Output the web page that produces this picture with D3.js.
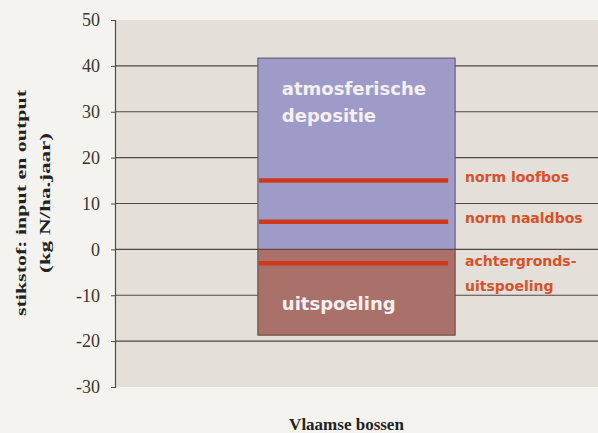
<!DOCTYPE html>
<head>
<meta charset="utf-8">
<style>
  body { margin:0; background:#f5f3ef; }
  .tick text { font-family:"Liberation Serif", "DejaVu Serif", serif; font-size:18px; fill:#3a3632; }
</style>
</head>
<script src="https://d3js.org/d3.v7.min.js"></script>
<div id="chart"></div>
<script>
// data
var categories = ["Vlaamse bossen"];
var deposition = [41.7];
var leaching = [-18.7];
var normNames = ["norm loofbos", "norm naaldbos", "achtergronds-|uitspoeling"];
var normValues = [15, 6, -3];
var yTicks = [50, 40, 30, 20, 10, 0, -10, -20, -30];

var W = 598, H = 433;
var svg = d3.select("#chart").append("svg").attr("width", W).attr("height", H);

var x = d3.scaleBand().domain(categories).range([115, 598]).padding(0.42);
var y = d3.scaleLinear().domain([-30, 50]).range([387, 20]);

// plot background
svg.append("rect").attr("x", 115).attr("y", y(50)).attr("width", W - 115)
  .attr("height", y(-30) - y(50)).attr("fill", "#e4dfd8");

// gridlines
svg.append("g").selectAll("line").data(yTicks.filter(function(d){ return d > -30 && d < 50; }))
  .enter().append("line")
  .attr("x1", 115).attr("x2", W)
  .attr("y1", function(d){ return y(d); }).attr("y2", function(d){ return y(d); })
  .attr("stroke", "#4f4a44").attr("stroke-width", 1.2);

// y axis
var yAxis = svg.append("g").attr("transform", "translate(115,0)")
  .call(d3.axisLeft(y).tickValues(yTicks).tickSize(4).tickPadding(11)
    .tickFormat(function(d){ return String(d); }));
yAxis.select(".domain").attr("stroke", "#4f4a44").attr("stroke-width", 1.2);
yAxis.selectAll(".tick line").attr("stroke", "#4f4a44");

// bars
var bars = svg.append("g");
bars.selectAll(".dep").data(categories).enter().append("rect")
  .attr("x", function(d){ return x(d); }).attr("width", x.bandwidth())
  .attr("y", function(d, i){ return y(deposition[i]); })
  .attr("height", function(d, i){ return y(0) - y(deposition[i]); })
  .attr("fill", "#9f9bc8").attr("stroke", "#5a5560").attr("stroke-width", 1);
bars.selectAll(".lea").data(categories).enter().append("rect")
  .attr("x", function(d){ return x(d); }).attr("width", x.bandwidth())
  .attr("y", y(0))
  .attr("height", function(d, i){ return y(leaching[i]) - y(0); })
  .attr("fill", "#a9716a").attr("stroke", "#5a4540").attr("stroke-width", 1);

// bar labels
var bx = x(categories[0]) + 24;
var lbl = svg.append("g").attr("font-family", "'DejaVu Sans', Verdana, sans-serif")
  .attr("font-weight", "bold").attr("font-size", 18).attr("fill", "#f4f0f2");
lbl.append("text").attr("x", bx).attr("y", y(deposition[0]) + 37).text("atmosferische");
lbl.append("text").attr("x", bx).attr("y", y(deposition[0]) + 64).text("depositie");
lbl.append("text").attr("x", bx).attr("y", y(leaching[0]) - 25).text("uitspoeling");

// norm lines
svg.append("g").selectAll("line").data(normValues).enter().append("line")
  .attr("x1", x(categories[0]) + 1).attr("x2", x(categories[0]) + x.bandwidth() - 7)
  .attr("y1", function(d){ return y(d); }).attr("y2", function(d){ return y(d); })
  .attr("stroke", "#d0381c").attr("stroke-width", 4.5);

// norm labels
var nl = svg.append("g").attr("font-family", "'DejaVu Sans', Verdana, sans-serif")
  .attr("font-weight", "bold").attr("font-size", 14).attr("fill", "#d8512a");
normNames.forEach(function(n, i){
  var parts = n.split("|");
  var t = nl.append("text").attr("y", y(normValues[i]) + (parts.length > 1 ? 3 : 1));
  parts.forEach(function(p, j){
    t.append("tspan").attr("x", 465).attr("dy", j === 0 ? 0 : 25).text(p);
  });
});

// axis titles
var at = svg.append("text").attr("transform", "translate(0,203) rotate(-90)")
  .attr("text-anchor", "middle").attr("font-family", "'Liberation Serif', serif")
  .attr("font-weight", "bold").attr("font-size", 15).attr("fill", "#222");
at.append("tspan").attr("x", 0).attr("y", 26).attr("textLength", 226)
  .attr("lengthAdjust", "spacingAndGlyphs").text("stikstof: input en output");
at.append("tspan").attr("x", 0).attr("y", 50).attr("textLength", 140)
  .attr("lengthAdjust", "spacingAndGlyphs").text("(kg N/ha.jaar)");

svg.append("text").attr("x", x(categories[0]) + x.bandwidth() / 2 - 10).attr("y", 430)
  .attr("text-anchor", "middle").attr("font-family", "'Liberation Serif', serif")
  .attr("font-weight", "bold").attr("font-size", 17).attr("fill", "#222")
  .text(categories[0]);
</script>
